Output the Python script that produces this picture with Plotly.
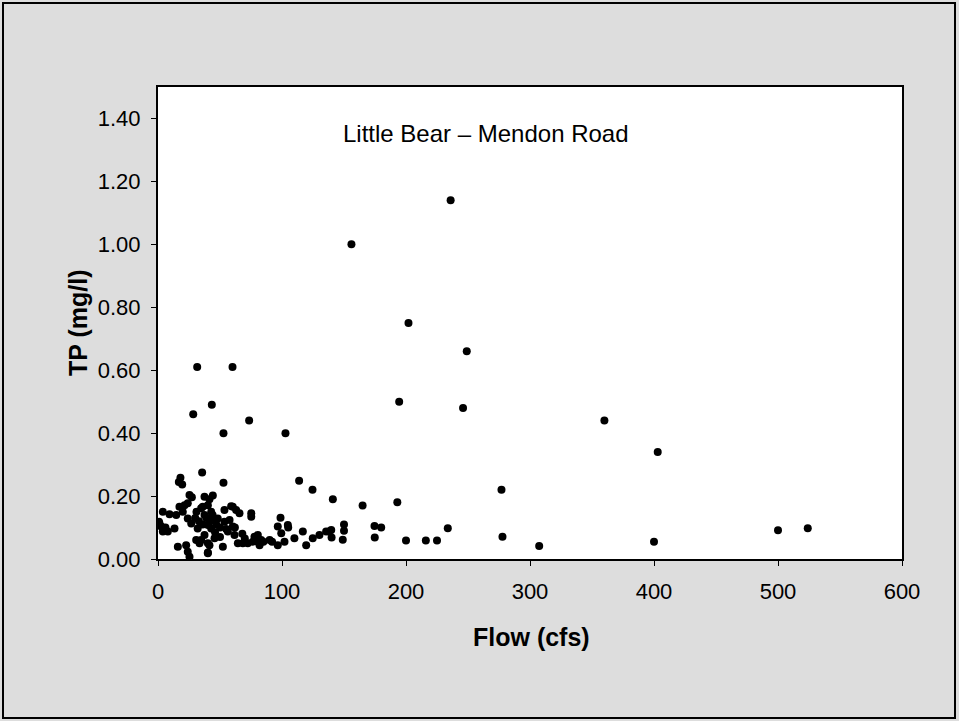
import plotly.graph_objects as go

# Flow (cfs) and TP (mg/l) readings
flow = [
    236, 156, 202, 249, 194.5, 246, 360, 403, 277, 141, 165, 193, 150, 150, 138, 140, 149,
    174.6, 180, 174.8, 200, 216, 225, 233.7, 277.8, 307.4, 400, 500, 524,
    31.6, 60.1, 43.4, 28.4, 73.5, 52.8, 102.8, 35.6, 18.1, 16.8, 19.5, 52.8, 113.8, 124.6,
    25.4, 27.3, 37.5, 44.2, 41.5,
    3.9, 9.3, 14.7, 17.3, 21.4, 24, 20,
    1.2, 2.6, 0.8, 3.9, 7.9, 13.3, 6,
    24, 26.8, 32, 34.8,
    16, 22.7, 24, 25.4, 40.2, 40.2,
    34.8, 37.5, 40.2, 41.5, 42.9, 37.5, 36.1, 42.9, 30, 33, 36, 39, 45, 47, 44, 31,
    53.6, 60.3, 63, 65.7, 59,
    75.2, 75.2,
    48.2, 53.6, 57.7, 60.3, 56.3, 61.7, 50, 55, 46, 50,
    40.2, 45.6, 41.5, 40.2, 52.3, 30.8, 33.5,
    64.4, 68.4, 72.4, 76.5, 80.5, 81.9, 79.2,
    98.8, 96.6, 104.7, 99.4, 77.8, 83.2, 90, 96.6, 110, 116.8, 119.5, 124.8, 130.2, 135.6,
    139.7, 85, 92, 102, 105, 62, 68, 70,
]
tp = [
    1.14, 1.00, 0.75, 0.66, 0.50, 0.48, 0.44, 0.34, 0.22, 0.19, 0.17, 0.18, 0.11, 0.09, 0.087, 0.068, 0.061,
    0.105, 0.10, 0.068, 0.059, 0.059, 0.059, 0.098, 0.071, 0.041, 0.055, 0.091, 0.098,
    0.61, 0.61, 0.49, 0.46, 0.44, 0.40, 0.40, 0.275, 0.258, 0.245, 0.237, 0.242, 0.249, 0.22,
    0.203, 0.196, 0.198, 0.202, 0.19,
    0.15, 0.142, 0.14, 0.166, 0.171, 0.177, 0.15,
    0.113, 0.103, 0.118, 0.087, 0.087, 0.097, 0.10,
    0.129, 0.113, 0.097, 0.06,
    0.039, 0.044, 0.023, 0.007, 0.05, 0.021,
    0.161, 0.14, 0.171, 0.118, 0.097, 0.076, 0.166, 0.15, 0.13, 0.12, 0.11, 0.13, 0.125, 0.11, 0.14, 0.15,
    0.156, 0.166, 0.156, 0.145, 0.168,
    0.134, 0.145,
    0.129, 0.118, 0.124, 0.103, 0.087, 0.076, 0.10, 0.095, 0.085, 0.07,
    0.108, 0.066, 0.044, 0.018, 0.039, 0.06, 0.05,
    0.05, 0.05, 0.05, 0.055, 0.076, 0.044, 0.06,
    0.131, 0.103, 0.108, 0.082, 0.071, 0.06, 0.06, 0.044, 0.066, 0.087, 0.044, 0.066, 0.076, 0.087,
    0.092, 0.055, 0.055, 0.055, 0.10, 0.10, 0.08, 0.065,
]

x_ticks = [0, 100, 200, 300, 400, 500, 600]
y_ticks = [0.0, 0.2, 0.4, 0.6, 0.8, 1.0, 1.2, 1.4]
y_labels = ["0.00", "0.20", "0.40", "0.60", "0.80", "1.00", "1.20", "1.40"]
chart_title = "Little Bear – Mendon Road"
x_title = "Flow (cfs)"
y_title = "TP (mg/l)"

W, H = 959, 721
L, R, T, B = 158, 57, 87, 162
pw, ph = W - L - R, H - T - B

def px_x(p):
    return (p - L) / pw

def px_y(p):
    return (H - B - p) / ph

FONT = "Liberation Sans, Arial, sans-serif"

fig = go.Figure(go.Scatter(
    x=flow, y=tp, mode="markers",
    marker=dict(color="black", size=8, line=dict(width=0)),
    showlegend=False,
))

axis_common = dict(
    showgrid=False, zeroline=False, showline=True, linecolor="black", linewidth=2,
    mirror=True, ticks="outside", ticklen=5, tickwidth=1, tickcolor="black",
    tickfont=dict(family=FONT, size=22, color="black"),
)
fig.update_xaxes(range=[0, 600], tickvals=x_ticks, ticklabelstandoff=7, **axis_common)
fig.update_yaxes(range=[0, 1.5], tickvals=y_ticks, ticktext=y_labels, ticklabelstandoff=6,
                 **axis_common)

fig.update_layout(
    width=W, height=H,
    margin=dict(l=L, r=R, t=T, b=B, pad=0),
    paper_bgcolor="#DDDDDD", plot_bgcolor="white",
    font=dict(family=FONT, color="black"),
    shapes=[dict(type="rect", xref="paper", yref="paper",
                 x0=px_x(3), x1=px_x(955), y0=px_y(718), y1=px_y(3),
                 line=dict(color="black", width=2), fillcolor="rgba(0,0,0,0)", layer="below")],
    annotations=[
        dict(text=chart_title, xref="paper", yref="paper", x=px_x(485.5), y=px_y(133),
             showarrow=False, xanchor="center", yanchor="middle",
             font=dict(family=FONT, size=24, color="black")),
        dict(text="<b>" + x_title + "</b>", xref="paper", yref="paper", x=px_x(531), y=px_y(637),
             showarrow=False, xanchor="center", yanchor="middle",
             font=dict(family=FONT, size=25, color="black")),
        dict(text="<b>" + y_title + "</b>", xref="paper", yref="paper", x=px_x(78), y=px_y(323),
             showarrow=False, xanchor="center", yanchor="middle", textangle=-90,
             font=dict(family=FONT, size=25, color="black")),
    ],
)

fig.write_html("out.html")
